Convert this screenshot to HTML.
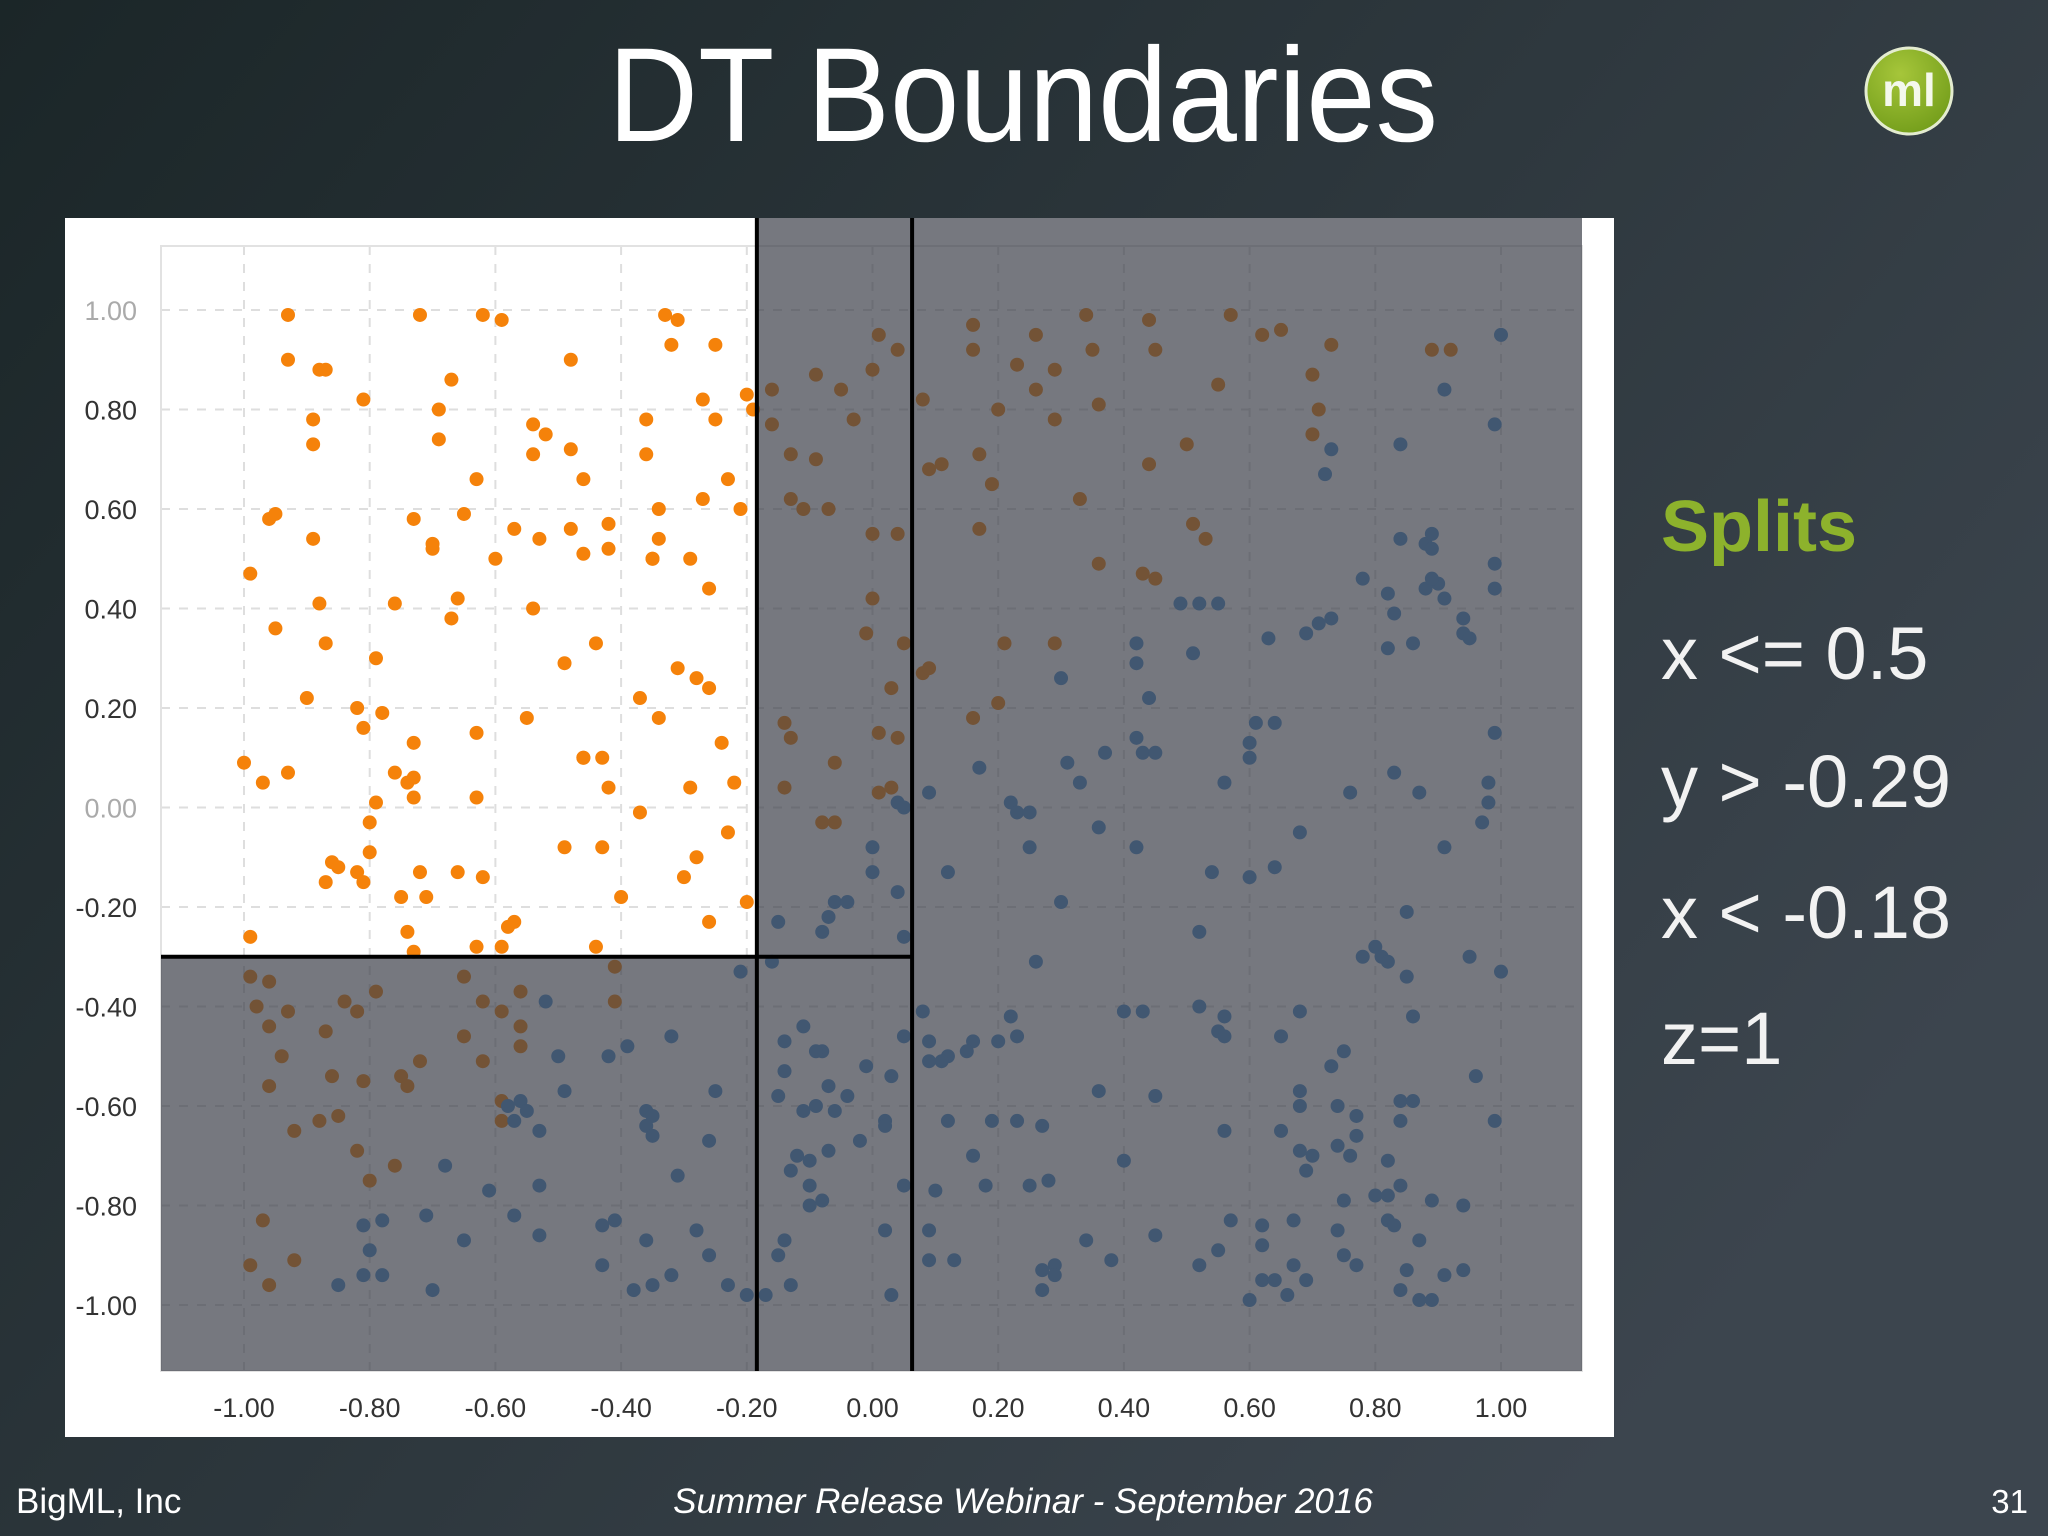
<!DOCTYPE html>
<html><head><meta charset="utf-8"><style>
html,body{margin:0;padding:0;width:2048px;height:1536px;overflow:hidden;background:#2a3438}
svg{display:block}
</style></head><body>
<svg width="2048" height="1536" viewBox="0 0 2048 1536" xmlns="http://www.w3.org/2000/svg">
<defs>
<linearGradient id="bg" x1="0" y1="0" x2="1" y2="0.6">
<stop offset="0" stop-color="#1b2628"/><stop offset="1" stop-color="#3c454e"/>
</linearGradient>
<radialGradient id="lg" cx="0.4" cy="0.3" r="0.8">
<stop offset="0" stop-color="#a6c63a"/><stop offset="1" stop-color="#6f9a18"/>
</radialGradient>
</defs>
<rect width="2048" height="1536" fill="url(#bg)"/>
<text x="1023" y="141" text-anchor="middle" font-family="Liberation Sans, sans-serif" font-size="134" fill="#ffffff" textLength="830" lengthAdjust="spacingAndGlyphs">DT Boundaries</text>
<g>
<circle cx="1909" cy="91" r="43" fill="url(#lg)" stroke="#e4ecd0" stroke-width="3"/>
<text x="1909" y="106" text-anchor="middle" font-family="Liberation Sans, sans-serif" font-weight="bold" font-size="46" fill="#f4f8ec">ml</text>
</g>
<rect x="65" y="218" width="1549" height="1219" fill="#ffffff"/>
<g id="grid"></g>
<rect x="161" y="246" width="1421" height="1125" fill="none" stroke="#e2e2e2" stroke-width="2"/>
<g id="ticks"></g>
<g id="points"></g>
<g id="regions"></g>
<g font-family="Liberation Sans, sans-serif">
<text x="1661" y="551" font-size="72" font-weight="bold" fill="#8db22c">Splits</text>
<text x="1661" y="679" font-size="74" fill="#f2f2f2">x &lt;= 0.5</text>
<text x="1661" y="807" font-size="74" fill="#f2f2f2">y &gt; -0.29</text>
<text x="1661" y="938" font-size="74" fill="#f2f2f2">x &lt; -0.18</text>
<text x="1661" y="1064" font-size="74" fill="#f2f2f2">z=1</text>
</g>
<text x="16" y="1513" font-family="Liberation Sans, sans-serif" font-size="35" fill="#ffffff">BigML, Inc</text>
<text x="1023" y="1513" text-anchor="middle" font-family="Liberation Sans, sans-serif" font-style="italic" font-size="35" fill="#ffffff">Summer Release Webinar - September 2016</text>
<text x="2028" y="1513" text-anchor="end" font-family="Liberation Sans, sans-serif" font-size="33" fill="#ffffff">31</text>
</svg>
<script>
const xTicks=[-1,-0.8,-0.6,-0.4,-0.2,0,0.2,0.4,0.6,0.8,1];
const yTicks=[1,0.8,0.6,0.4,0.2,0,-0.2,-0.4,-0.6,-0.8,-1];
const splitX1=-0.184, splitX2=0.063, splitY=-0.30;
const orangeX=[-0.93,-0.93,-0.88,-0.87,-0.81,-0.89,-0.89,-0.96,-0.95,-0.99,-0.89,-0.88,-0.95,-0.87,-0.90,-0.82,-0.81,-0.78,-0.73,-1.00,-0.97,-0.93,-0.79,-0.80,-0.80,-0.86,-0.85,-0.87,-0.82,-0.81,-0.72,-0.67,-0.69,-0.69,-0.73,-0.70,-0.70,-0.76,-0.66,-0.67,-0.79,-0.63,-0.65,-0.62,-0.59,-0.48,-0.54,-0.52,-0.54,-0.48,-0.46,-0.57,-0.53,-0.60,-0.48,-0.46,-0.42,-0.42,-0.54,-0.44,-0.49,-0.55,-0.63,-0.46,-0.46,-0.43,-0.42,-0.63,-0.73,-0.76,-0.74,-0.73,-0.49,-0.43,-0.72,-0.66,-0.62,-0.75,-0.71,-0.57,-0.58,-0.59,-0.63,-0.74,-0.73,-0.99,-0.44,-0.40,-0.37,-0.33,-0.31,-0.32,-0.25,-0.36,-0.36,-0.27,-0.25,-0.20,-0.23,-0.27,-0.34,-0.34,-0.35,-0.35,-0.29,-0.26,-0.21,-0.31,-0.28,-0.26,-0.37,-0.34,-0.24,-0.22,-0.29,-0.23,-0.28,-0.30,-0.26,-0.20,-0.19,
-0.16,-0.13,-0.09,-0.09,-0.05,-0.03,-0.13,-0.11,-0.07,0.00,0.04,0.00,-0.01,0.05,0.03,0.01,0.04,-0.14,-0.13,-0.06,-0.14,-0.08,-0.06,0.01,-0.16,0.01,0.04,0.00,0.08,0.09,0.11,0.17,0.19,0.16,0.16,0.26,0.23,0.26,0.29,0.34,0.35,0.44,0.45,0.36,0.29,0.20,0.44,0.50,0.33,0.17,0.51,0.53,0.36,0.43,0.45,0.57,0.62,0.65,0.73,0.70,0.71,0.70,0.55,0.89,0.92,0.21,0.29,0.08,0.09,0.16,0.20,0.03,
-0.99,-0.96,-0.98,-0.96,-0.93,-0.87,-0.84,-0.82,-0.79,-0.94,-0.96,-0.86,-0.81,-0.88,-0.85,-0.92,-0.82,-0.80,-0.76,-0.75,-0.72,-0.74,-0.99,-0.96,-0.92,-0.97,-0.65,-0.62,-0.59,-0.56,-0.56,-0.56,-0.65,-0.62,-0.59,-0.59,-0.41,-0.41];
const orangeY=[0.99,0.90,0.88,0.88,0.82,0.78,0.73,0.58,0.59,0.47,0.54,0.41,0.36,0.33,0.22,0.20,0.16,0.19,0.13,0.09,0.05,0.07,0.01,-0.03,-0.09,-0.11,-0.12,-0.15,-0.13,-0.15,0.99,0.86,0.80,0.74,0.58,0.53,0.52,0.41,0.42,0.38,0.30,0.66,0.59,0.99,0.98,0.90,0.77,0.75,0.71,0.72,0.66,0.56,0.54,0.50,0.56,0.51,0.57,0.52,0.40,0.33,0.29,0.18,0.15,0.10,0.10,0.10,0.04,0.02,0.06,0.07,0.05,0.02,-0.08,-0.08,-0.13,-0.13,-0.14,-0.18,-0.18,-0.23,-0.24,-0.28,-0.28,-0.25,-0.29,-0.26,-0.28,-0.18,-0.01,0.99,0.98,0.93,0.93,0.78,0.71,0.82,0.78,0.83,0.66,0.62,0.60,0.54,0.50,0.50,0.50,0.44,0.60,0.28,0.26,0.24,0.22,0.18,0.13,0.05,0.04,-0.05,-0.10,-0.14,-0.23,-0.19,0.80,
0.84,0.71,0.70,0.87,0.84,0.78,0.62,0.60,0.60,0.55,0.55,0.42,0.35,0.33,0.24,0.15,0.14,0.17,0.14,0.09,0.04,-0.03,-0.03,0.03,0.77,0.95,0.92,0.88,0.82,0.68,0.69,0.71,0.65,0.97,0.92,0.95,0.89,0.84,0.88,0.99,0.92,0.98,0.92,0.81,0.78,0.80,0.69,0.73,0.62,0.56,0.57,0.54,0.49,0.47,0.46,0.99,0.95,0.96,0.93,0.87,0.80,0.75,0.85,0.92,0.92,0.33,0.33,0.27,0.28,0.18,0.21,0.04,
-0.34,-0.35,-0.40,-0.44,-0.41,-0.45,-0.39,-0.41,-0.37,-0.50,-0.56,-0.54,-0.55,-0.63,-0.62,-0.65,-0.69,-0.75,-0.72,-0.54,-0.51,-0.56,-0.92,-0.96,-0.91,-0.83,-0.34,-0.39,-0.41,-0.37,-0.44,-0.48,-0.46,-0.51,-0.59,-0.63,-0.32,-0.39];
const blueX=[1.00,0.91,0.99,0.73,0.72,0.84,0.84,0.88,0.89,0.89,0.90,0.88,0.89,0.91,0.94,0.94,0.95,0.99,0.99,0.78,0.82,0.83,0.86,0.82,0.73,0.71,0.69,0.63,0.49,0.52,0.55,0.51,0.42,0.42,0.30,0.44,0.61,0.64,0.42,0.43,0.45,0.37,0.31,0.33,0.17,0.09,0.04,0.05,0.22,0.23,0.25,0.56,0.60,0.60,0.76,0.83,0.87,0.99,0.98,0.98,0.97,0.91,0.85,0.25,0.42,0.36,0.12,0.00,0.00,-0.06,-0.04,-0.07,-0.08,0.04,0.05,-0.15,0.30,0.54,0.60,0.64,0.68,0.52,0.80,0.81,0.78,0.82,0.85,0.95,1.00,0.26,-0.16,-0.21,0.86,0.68,0.56,0.52,0.43,0.40,0.55,0.56,0.65,0.75,0.73,0.22,0.23,0.20,0.16,0.12,0.15,0.11,0.09,0.08,0.09,0.05,0.03,-0.01,-0.08,-0.11,-0.09,-0.14,-0.14,-0.07,-0.09,-0.06,-0.11,-0.15,-0.04,0.02,0.02,0.12,0.19,0.23,0.27,0.36,0.45,0.56,0.65,0.68,0.68,0.74,0.77,0.84,0.86,0.84,0.96,0.99,0.77,0.68,0.70,0.69,0.74,0.76,0.82,0.84,0.75,0.80,0.82,0.89,0.94,0.82,0.83,0.87,0.74,0.67,0.62,0.57,0.55,0.52,0.62,0.67,0.69,0.62,0.64,0.60,0.66,0.75,0.77,0.85,0.84,0.87,0.89,0.91,0.94,0.38,0.29,0.27,0.29,0.27,0.13,0.09,0.09,0.05,0.10,0.18,0.25,0.28,0.40,0.45,0.34,0.16,-0.12,-0.07,-0.10,-0.13,-0.10,-0.08,-0.10,-0.02,-0.14,-0.15,-0.13,-0.20,-0.17,0.03,0.02,
-0.58,-0.56,-0.55,-0.57,-0.53,-0.36,-0.35,-0.36,-0.35,-0.26,-0.25,-0.32,-0.39,-0.42,-0.50,-0.49,-0.68,-0.61,-0.53,-0.57,-0.71,-0.81,-0.78,-0.80,-0.81,-0.78,-0.85,-0.70,-0.65,-0.53,-0.43,-0.41,-0.36,-0.28,-0.43,-0.38,-0.35,-0.32,-0.26,-0.23,-0.31,-0.52];
const blueY=[0.95,0.84,0.77,0.72,0.67,0.73,0.54,0.53,0.55,0.52,0.45,0.44,0.46,0.42,0.38,0.35,0.34,0.49,0.44,0.46,0.43,0.39,0.33,0.32,0.38,0.37,0.35,0.34,0.41,0.41,0.41,0.31,0.33,0.29,0.26,0.22,0.17,0.17,0.14,0.11,0.11,0.11,0.09,0.05,0.08,0.03,0.01,0.00,0.01,-0.01,-0.01,0.05,0.13,0.10,0.03,0.07,0.03,0.15,0.05,0.01,-0.03,-0.08,-0.21,-0.08,-0.08,-0.04,-0.13,-0.08,-0.13,-0.19,-0.19,-0.22,-0.25,-0.17,-0.26,-0.23,-0.19,-0.13,-0.14,-0.12,-0.05,-0.25,-0.28,-0.30,-0.30,-0.31,-0.34,-0.30,-0.33,-0.31,-0.31,-0.33,-0.42,-0.41,-0.42,-0.40,-0.41,-0.41,-0.45,-0.46,-0.46,-0.49,-0.52,-0.42,-0.46,-0.47,-0.47,-0.50,-0.49,-0.51,-0.51,-0.41,-0.47,-0.46,-0.54,-0.52,-0.49,-0.44,-0.49,-0.47,-0.53,-0.56,-0.60,-0.61,-0.61,-0.58,-0.58,-0.63,-0.64,-0.63,-0.63,-0.63,-0.64,-0.57,-0.58,-0.65,-0.65,-0.57,-0.60,-0.60,-0.62,-0.59,-0.59,-0.63,-0.54,-0.63,-0.66,-0.69,-0.70,-0.73,-0.68,-0.70,-0.71,-0.76,-0.79,-0.78,-0.78,-0.79,-0.80,-0.83,-0.84,-0.87,-0.85,-0.83,-0.84,-0.83,-0.89,-0.92,-0.88,-0.92,-0.95,-0.95,-0.95,-0.99,-0.98,-0.90,-0.92,-0.93,-0.97,-0.99,-0.99,-0.94,-0.93,-0.91,-0.92,-0.93,-0.94,-0.97,-0.91,-0.91,-0.85,-0.76,-0.77,-0.76,-0.76,-0.75,-0.71,-0.86,-0.87,-0.70,-0.70,-0.69,-0.71,-0.73,-0.80,-0.79,-0.76,-0.67,-0.87,-0.90,-0.96,-0.98,-0.98,-0.98,-0.85,
-0.60,-0.59,-0.61,-0.63,-0.65,-0.61,-0.62,-0.64,-0.66,-0.67,-0.57,-0.46,-0.48,-0.50,-0.50,-0.57,-0.72,-0.77,-0.76,-0.82,-0.82,-0.84,-0.83,-0.89,-0.94,-0.94,-0.96,-0.97,-0.87,-0.86,-0.84,-0.83,-0.87,-0.85,-0.92,-0.97,-0.96,-0.94,-0.90,-0.96,-0.74,-0.39];
const NS='http://www.w3.org/2000/svg';
const X0=161,X1=1582,Y0=246,Y1=1371,TOP=218;
function sx(v){return 872.5+628.5*v;}
function sy(v){return 807.5-497.5*v;}
function mk(tag,attrs,parent){const e=document.createElementNS(NS,tag);for(const k in attrs)e.setAttribute(k,attrs[k]);parent.appendChild(e);return e;}
const grid=document.getElementById('grid'),ticks=document.getElementById('ticks'),pts=document.getElementById('points'),reg=document.getElementById('regions');
xTicks.forEach(v=>{
  const l=mk('line',{x1:sx(v),x2:sx(v),y1:Y0,y2:Y1,stroke:'#dedede','stroke-width':2,'stroke-dasharray':'9 9'},grid);
  
  
  const t=mk('text',{x:sx(v),y:1417,'text-anchor':'middle','font-family':'Liberation Sans, sans-serif','font-size':27,fill:'#333'},ticks);
  t.textContent=v.toFixed(2);
  
  
});
yTicks.forEach(v=>{
  const l=mk('line',{x1:X0,x2:X1,y1:sy(v),y2:sy(v),stroke:'#dedede','stroke-width':2,'stroke-dasharray':'9 9'},grid);
  
  
  const t=mk('text',{x:137,y:sy(v)+10,'text-anchor':'end','font-family':'Liberation Sans, sans-serif','font-size':27,fill:(v===1||v===0)?'#aaaaaa':'#333'},ticks);
  t.textContent=v.toFixed(2);
  
  
});
orangeX.forEach((v,i)=>{
  const c=mk('circle',{cx:sx(v),cy:sy(orangeY[i]),r:7,fill:'#f5820a'},pts);
  
  
});
blueX.forEach((v,i)=>{
  const c=mk('circle',{cx:sx(v),cy:sy(blueY[i]),r:7,fill:'#4d8fd0'},pts);
  
  
});
const ov='rgba(60,63,73,0.7)';
const r1=mk('rect',{x:sx(splitX1),y:TOP,width:X1-sx(splitX1),height:Y1-TOP,fill:ov},reg);


const r2=mk('rect',{x:X0,y:sy(splitY),width:sx(splitX1)-X0,height:Y1-sy(splitY),fill:ov},reg);


const l1=mk('line',{x1:sx(splitX1),x2:sx(splitX1),y1:TOP,y2:Y1,stroke:'#000','stroke-width':4},reg);


const l2=mk('line',{x1:sx(splitX2),x2:sx(splitX2),y1:TOP,y2:Y1,stroke:'#000','stroke-width':4},reg);


const l3=mk('line',{x1:X0,x2:sx(splitX2),y1:sy(splitY),y2:sy(splitY),stroke:'#000','stroke-width':4},reg);


</script>
</body></html>
